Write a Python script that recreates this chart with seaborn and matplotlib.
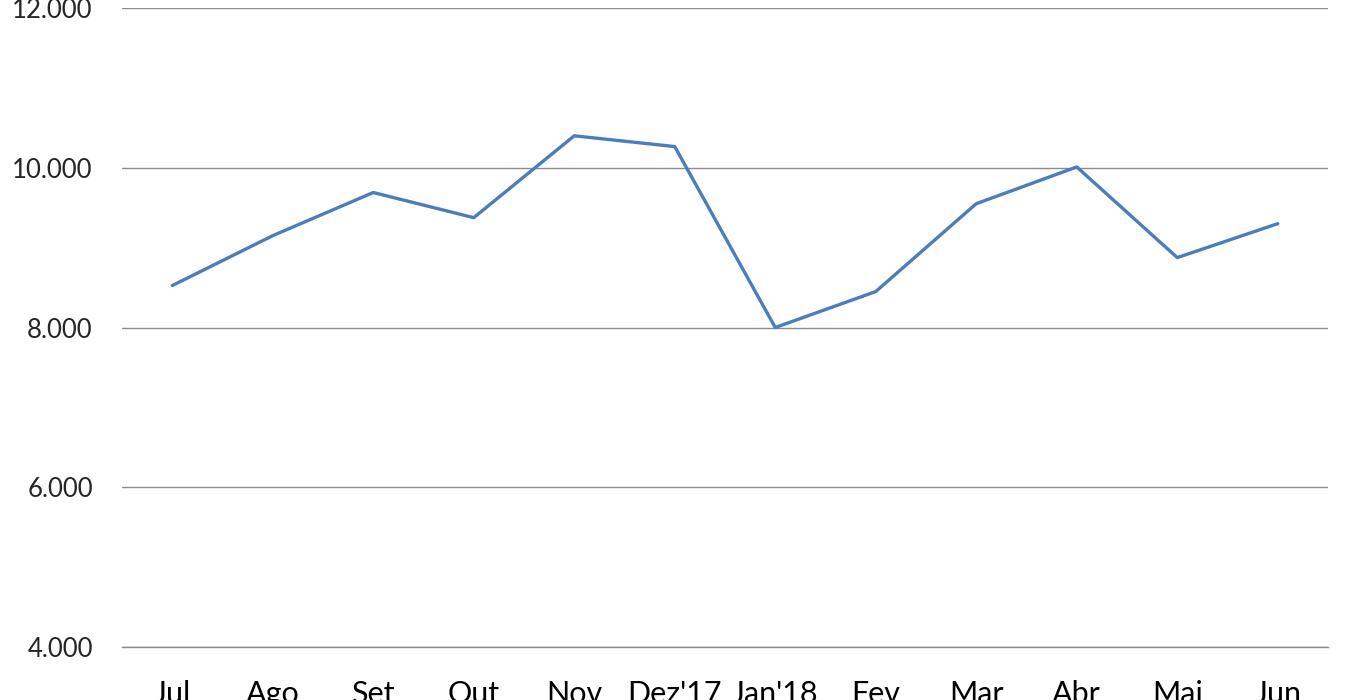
import numpy as np
import pandas as pd
import seaborn as sns
import matplotlib.pyplot as plt
from matplotlib.ticker import FuncFormatter, FixedLocator

meses = ["Jul", "Ago", "Set", "Out", "Nov", "Dez'17", "Jan'18", "Fev", "Mar", "Abr", "Mai", "Jun"]
valores = [8525, 9150, 9690, 9375, 10400, 10265, 8000, 8450, 9550, 10010, 8875, 9300]

df = pd.DataFrame({"mes": meses, "valor": valores})

sns.set_style("white")
plt.rcParams['font.family'] = ['Lato', 'DejaVu Sans']

fig = plt.figure(figsize=(13.5, 7), dpi=100)
ax = fig.add_axes([122 / 1350, 53 / 700, 1206 / 1350, 639 / 700])

sns.lineplot(x="mes", y="valor", data=df, sort=False, color="#4a7ebb", linewidth=2.4, ax=ax)

ax.set_xlim(-0.5, len(meses) - 0.5)
ax.set_ylim(4000, 12000)
ax.set_yticks([4000, 6000, 8000, 10000, 12000])
ax.yaxis.set_major_formatter(FuncFormatter(lambda v, p: f"{int(v):,}".replace(",", ".")))
ax.grid(axis="y", color="#8c8c8c", linewidth=1)
ax.set_axisbelow(True)

ax.xaxis.set_minor_locator(FixedLocator(np.arange(-0.5, len(meses), 1)))
ax.tick_params(axis="x", which="major", length=0, pad=24, labelsize=22, colors="black")
ax.tick_params(axis="x", which="minor", length=7, width=1, color="#8c8c8c", direction="out")
ax.tick_params(axis="y", length=0, pad=21, labelsize=18.5)

for s in ["top", "right", "left"]:
    ax.spines[s].set_visible(False)
ax.spines["bottom"].set_color("#8c8c8c")
ax.spines["bottom"].set_linewidth(1)

ax.set_xlabel("")
ax.set_ylabel("")

fig.savefig("out.png", dpi=100)
